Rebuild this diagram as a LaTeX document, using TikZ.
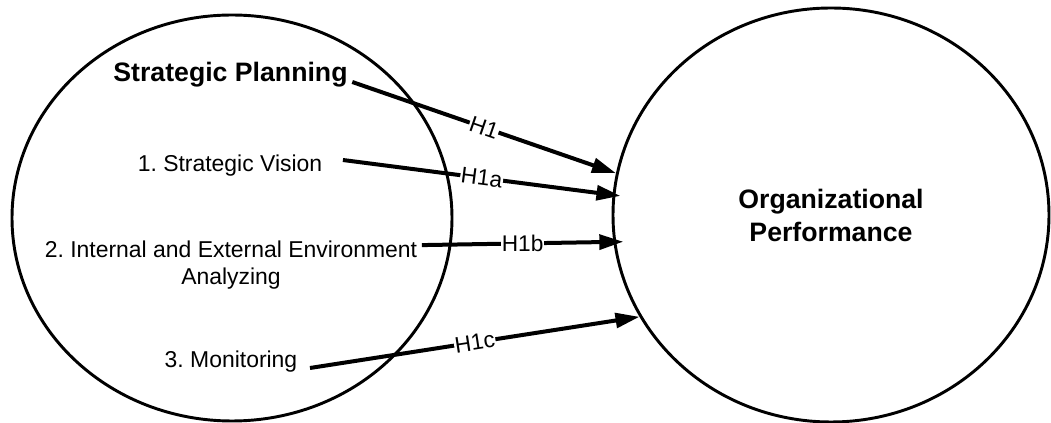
\documentclass[tikz,border=0pt]{standalone}
\usepackage{fontspec}
\setmainfont{Liberation Sans}
\usetikzlibrary{shapes.geometric,arrows.meta}

\begin{document}
\begin{tikzpicture}[x=0.75pt,y=-0.75pt,
        blob/.style={draw,ellipse,line width=2.2pt,inner sep=0pt},
        item/.style={font=\fontsize{17.2}{20.6}\selectfont,align=center},
        head/.style={font=\fontsize{20}{24.75}\selectfont\bfseries,align=center},
        hyp/.style={line width=3pt,-{Triangle[length=18pt,width=11pt]}},
        tag/.style={fill=white,inner sep=0.5pt,font=\fontsize{17}{20}\selectfont}]
            \useasboundingbox (0,0) rectangle (1051,423);

            \node[blob,minimum width=330pt,minimum height=304.5pt] (plan) at (232,218) {};
            \node[blob,head,minimum width=327pt,minimum height=310.5pt] (perf) at (831,215) {Organizational\\Performance};

            \node[head,anchor=base] (sp) at (230.5,82) {Strategic Planning};
            \node[item,anchor=base] (sv) at (230,172) {1.\ Strategic Vision};
            \node[item] (ie) at (231,264.9) {2.\ Internal and External Environment\\Analyzing};
            \node[item,anchor=base] (mon) at (231,368) {3.\ Monitoring};

            \draw[hyp] (sp.base east) -- node[tag,sloped] {H1} (perf.169);
            \draw[hyp] ([xshift=12pt,yshift=-7pt]sv.north east) -- node[tag,sloped] {H1a} ([xshift=6pt]perf.175);
            \draw[hyp] ([yshift=-7pt]ie.north east) -- node[tag] {H1b} ([xshift=7.5pt]perf.187);
            \draw[hyp] ([xshift=6pt]mon.base east) -- node[tag,sloped] {H1c} (perf.208);
        \end{tikzpicture}
\end{document}
